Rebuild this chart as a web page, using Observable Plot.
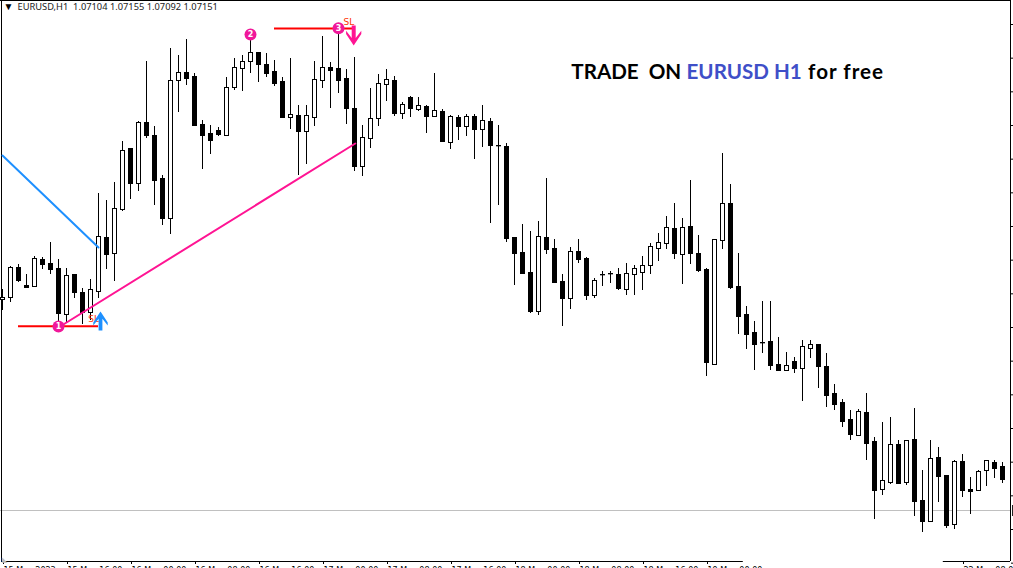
<!DOCTYPE html>
<html><head><meta charset="utf-8">
<script src="https://cdn.jsdelivr.net/npm/d3@7"></script>
<script src="https://cdn.jsdelivr.net/npm/@observablehq/plot@0.6"></script>
<style>html,body{margin:0;padding:0;background:#fff;overflow:hidden}svg{display:block}</style>
</head><body><div id="chart"></div>
<script>
// EURUSD H1 candles, values in points (0.00001) above 1.07000
const base = 1.07;
const opens = [784,790,880,826,823,904,892,877,739,859,805,745,808,970,922,1054,1237,1132,1315,1276,
1147,1027,1441,1465,1453,1309,1282,1291,1276,1420,1477,1498,1525,1489,1468,1438,1330,1336,1288,1330,
1441,1480,1477,1447,1357,1183,1267,1327,1429,1441,1342,1390,1354,1363,1333,1348,1255,1330,1303,1333,
1294,1318,1246,1243,970,925,865,748,970,937,838,787,928,907,796,859,862,859,814,859,
865,886,937,952,997,919,1003,922,874,589,961,1072,823,739,685,655,658,589,571,598,
577,637,649,583,502,475,424,376,445,358,214,235,349,235,364,181,118,310,256,109,
298,214,211,271,295,283];
const highs = [814,883,889,859,913,910,955,904,877,859,817,844,1102,1081,1135,1258,1237,1318,1498,1303,
1156,1537,1516,1564,1462,1321,1306,1300,1450,1507,1516,1582,1525,1522,1501,1450,1507,1366,1366,1498,
1573,1495,1603,1474,1510,1306,1417,1459,1474,1453,1375,1393,1390,1366,1462,1354,1336,1336,1339,1339,
1366,1327,1306,1252,970,1009,988,1018,1147,964,859,940,964,910,847,868,868,877,892,886,
913,952,982,1033,1072,1027,1141,976,877,964,1222,1129,922,763,718,778,778,670,625,610,
661,661,649,622,529,484,451,454,502,370,415,430,361,361,457,271,361,340,256,301,
319,250,271,301,301,295];
const lows = [751,775,835,817,823,874,859,715,712,787,709,721,787,874,838,1048,1084,1108,1267,1066,
1006,979,1345,1426,1303,1174,1219,1273,1276,1411,1408,1462,1435,1450,1423,1327,1294,1156,1189,1303,
1417,1357,1402,1309,1168,1153,1237,1303,1378,1333,1324,1330,1348,1282,1333,1255,1234,1261,1273,1204,
1240,1012,1066,955,826,862,742,736,919,835,703,754,892,781,787,823,832,811,796,796,
811,859,898,934,904,829,889,865,553,589,934,814,679,634,571,622,571,568,568,562,
478,607,517,460,451,400,361,373,301,124,196,229,229,226,133,85,118,175,97,94,
190,139,211,223,247,232];
const closes = [790,880,841,820,907,889,874,742,856,805,745,814,973,919,1057,1231,1132,1315,1276,1141,
1027,1441,1465,1447,1306,1276,1261,1279,1420,1480,1498,1525,1489,1462,1432,1330,1339,1288,1336,1444,
1480,1471,1441,1357,1183,1270,1327,1432,1444,1342,1369,1357,1366,1333,1351,1258,1333,1303,1333,1294,
1321,1246,1245,967,922,862,748,973,934,835,787,928,904,796,841,858,861,817,862,877,
886,943,955,1000,922,1000,922,871,595,964,1072,820,733,679,649,654,586,571,586,577,
643,649,583,496,469,418,379,448,352,211,241,349,232,361,178,118,307,253,106,298,
211,208,268,301,277,244];

// time axis
const xTicks = [0,8,16,24,32,40,48,56,64,72,80,88,120];
const xLabels = ["15 May 2023","15 May 16:00","16 May 00:00","16 May 08:00","16 May 16:00","17 May 00:00","17 May 08:00",
"17 May 16:00","18 May 00:00","18 May 08:00","18 May 16:00","19 May 00:00","22 May 08:00"];
// price axis ticks
const yTicks = [1609,1508,1407,1306,1205,1104,1003,902,801,700,599,498,397,296,195,94,-7];

// annotations (candle index, points above base)
const lastPrice = 151;
const blueLineI = [0,12], blueLineP = [1216,940];
const pinkLineI = [7,44.1], pinkLineP = [700,1252];
const redLow = {i1:2, i2:12, p:704};
const redHigh = {i1:34, i2:44.1, p:1597};
const markers = [{i:7,p:703,n:"1"},{i:31,p:1579,n:"2"},{i:42,p:1598,n:"3"}];
const slLabels = [{i:11.4,p:724,t:"SL"},{i:43.3,p:1616,t:"SL"}];
const upArrow = {i:12.25,p:691};
const downArrow = {i:43.9,p:1606};
const header = "EURUSD,H1\u00a0\u00a01.07104 1.07155 1.07092 1.07151";
const titleParts = [
  {i:71.1,t:"TRADE\u00a0\u00a0ON",c:"#000"},
  {i:85.5,t:"EURUSD H1",c:"#3f4fc8"},
  {i:100.7,t:"for free",c:"#000"}];
const titleP = 1465;

// chevron-headed arrow symbol for Plot.vector
const fatArrow = {draw(ctx,l){
  const w=0.38*l,s=0.1*l;
  ctx.moveTo(0,-l);ctx.lineTo(w,-0.42*l);ctx.lineTo(w,-0.26*l);ctx.lineTo(s,-0.62*l);
  ctx.lineTo(s,0);ctx.lineTo(-s,0);ctx.lineTo(-s,-0.62*l);ctx.lineTo(-w,-0.26*l);ctx.lineTo(-w,-0.42*l);ctx.closePath();
}};

const price = p => base + p/1e5;
const candles = opens.map((o,i)=>({i,open:price(o),high:price(highs[i]),low:price(lows[i]),close:price(closes[i]),up:closes[i]>o}));
const line = (is,ps)=>is.map((i,k)=>({i,p:price(ps[k])}));
const xMin=-0.25, xMax=126, yMin=price(-2), yMax=price(1681);

const chart = Plot.plot({
  width:1013,height:568,marginTop:0,marginLeft:0,marginRight:3,marginBottom:7,
  style:{background:"#fff",overflow:"hidden"},
  x:{domain:[xMin,xMax],axis:null},
  y:{domain:[yMin,yMax],axis:null},
  color:{type:"identity"},
  marks:[
    Plot.ruleY([price(lastPrice)],{x1:xMin,x2:xMax,stroke:"#c0c0c0"}),
    Plot.ruleX([-0.125],{y1:yMin,y2:yMax,stroke:"#000"}),
    Plot.ruleX([xMax],{y1:yMin,y2:yMax,stroke:"#000"}),
    Plot.ruleY([yMax],{x1:xMin,x2:xMax,stroke:"#000"}),
    Plot.ruleY([yMin],{x1:-0.125,x2:92.6,stroke:"#000"}),
    Plot.ruleY([yMin],{x1:117.6,x2:xMax,stroke:"#000"}),
    Plot.axisX({anchor:"bottom",ticks:xTicks,tickSize:3,tickPadding:3,textAnchor:"start",dx:1,
      tickFormat:d=>xLabels[xTicks.indexOf(d)],fontFamily:"DejaVu Sans",fontSize:8,fill:"#000",stroke:"#000",label:null}),
    Plot.axisY({anchor:"right",ticks:yTicks.map(price),tickSize:3,tickFormat:()=>"",stroke:"#000",label:null}),
    Plot.ruleX([126.25],{y1:price(133),y2:price(166),stroke:"#222"}),
    Plot.ruleX(candles,{x:"i",y1:"low",y2:"high",stroke:"#000"}),
    Plot.rect(candles,{x1:d=>d.i-0.25,x2:d=>d.i+0.25,y1:"open",y2:"close",dx:0.5,dy:0.5,
      fill:d=>d.up?"#fff":"#000",stroke:"#000"}),
    Plot.line(line(blueLineI,blueLineP),{x:"i",y:"p",stroke:"#1e90ff",strokeWidth:2}),
    Plot.line(line(pinkLineI,pinkLineP),{x:"i",y:"p",stroke:"#ff1493",strokeWidth:2}),
    Plot.ruleY([redLow],{x1:"i1",x2:"i2",y:d=>price(d.p),stroke:"#ff0000",strokeWidth:2}),
    Plot.ruleY([redHigh],{x1:"i1",x2:"i2",y:d=>price(d.p),stroke:"#ff0000",strokeWidth:2}),
    Plot.dot(markers,{x:"i",y:d=>price(d.p),r:6,fill:"#f0189a"}),
    Plot.text(markers,{x:"i",y:d=>price(d.p),text:"n",fill:"#fff",fontSize:8,fontWeight:"bold",fontFamily:"DejaVu Sans"}),
    Plot.text(slLabels,{x:"i",y:d=>price(d.p),text:"t",fill:"#ff3000",fontSize:9,fontFamily:"DejaVu Sans"}),
    Plot.vector([upArrow],{x:"i",y:d=>price(d.p),length:19,anchor:"start",shape:fatArrow,fill:"#1e90ff",stroke:"none"}),
    Plot.vector([downArrow],{x:"i",y:d=>price(d.p),length:20,rotate:180,anchor:"start",shape:fatArrow,fill:"#ff1493",stroke:"none"}),
    Plot.text(titleParts,{x:"i",y:()=>price(titleP),text:"t",fill:"c",textAnchor:"start",fontSize:20.6,fontWeight:"bold",fontFamily:"Lato"}),
    Plot.text(["\u25BC"],{frameAnchor:"top-left",dx:3,dy:2,fill:"#000",fontSize:10,textAnchor:"start"}),
    Plot.text([header],{frameAnchor:"top-left",dx:17,dy:3,fill:"#222",fontSize:9.3,fontFamily:"Noto Sans",textAnchor:"start"}),
    Plot.text(["\u25E3"],{frameAnchor:"bottom-left",dx:1,dy:0,fill:"#bbb",fontSize:7,textAnchor:"start",lineAnchor:"bottom"})
  ]
});
document.getElementById("chart").append(chart);
d3.select(chart).selectAll("text").filter(function(){return this.textContent==="for free";}).style("letter-spacing","1px");
</script></body></html>
